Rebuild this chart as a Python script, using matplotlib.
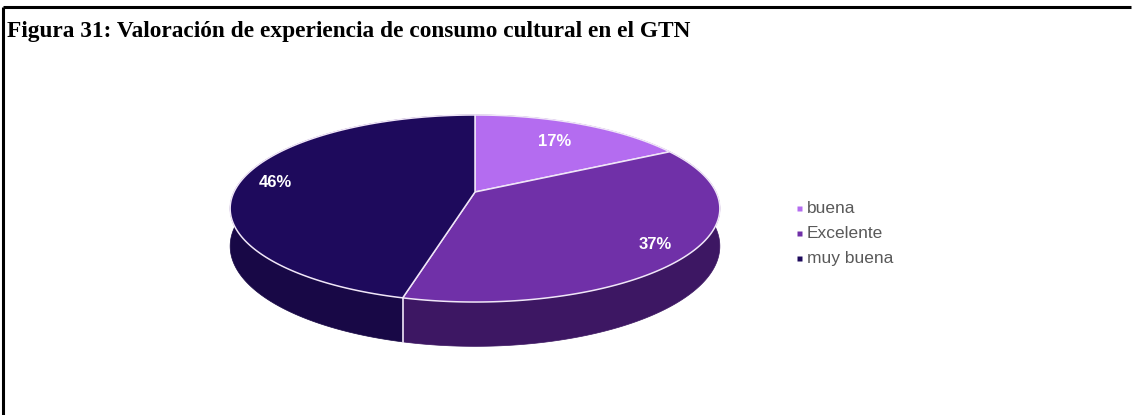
import numpy as np
import matplotlib
matplotlib.use("Agg")
import matplotlib.pyplot as plt
from matplotlib.patches import Polygon

# datos de la figura
categorias = ["buena", "Excelente", "muy buena"]
porcentajes = [17, 37, 46]
colores_sup = ["#B46CF0", "#7030A8", "#1E0A5C"]
colores_lat = ["#5A2A8A", "#3D1763", "#180846"]
titulo = "Figura 31: Valoración de experiencia de consumo cultural en el GTN"

W, H = 1132, 415
fig = plt.figure(figsize=(W / 100, H / 100), dpi=100)
ax = fig.add_axes([0, 0, 1, 1])
ax.set_xlim(0, W)
ax.set_ylim(H, 0)
ax.axis("off")

# marco (superior e izquierdo)
ax.plot([3, 1131], [7, 7], color="black", lw=2.2, solid_capstyle="butt")
ax.plot([3, 3], [7, H], color="black", lw=2.2, solid_capstyle="butt")

ax.text(7, 31, titulo, fontsize=16.8, fontweight="bold",
        family="Liberation Serif", va="center", ha="left")

# pastel 3D con perspectiva
cx, cy = 475, 192      # centro del pastel
sx, sy = 241, 90.6     # semiejes
k = 0.1765             # perspectiva
prof = 36.5            # grosor


def proyectar(theta, r=1.0, z=0.0):
    u = r * np.sin(theta)
    v = r * np.cos(theta)
    den = 1 + k * v
    return cx + sx * u / den, cy - sy * v / den + z * prof / den


fr = np.array(porcentajes) / sum(porcentajes)
lims = np.concatenate([[0], np.cumsum(fr)]) * 2 * np.pi

# paredes laterales
for i in range(len(porcentajes)):
    t = np.linspace(lims[i], lims[i + 1], 200)
    xa, ya = proyectar(t)
    xb, yb = proyectar(t[::-1], z=1)
    pts = np.column_stack([np.concatenate([xa, xb]), np.concatenate([ya, yb])])
    ax.add_patch(Polygon(pts, closed=True, facecolor=colores_lat[i],
                         edgecolor=colores_lat[i], lw=0.5))

# aristas verticales visibles en el frente
for a in lims[1:-1]:
    if np.cos(a) < 0:
        x0, y0 = proyectar(a)
        x1, y1 = proyectar(a, z=1)
        ax.plot([x0, x1], [y0, y1], color="#F0E6F8", lw=1.2)

# caras superiores
for i in range(len(porcentajes)):
    t = np.linspace(lims[i], lims[i + 1], 200)
    xa, ya = proyectar(t)
    pts = np.column_stack([np.concatenate([[cx], xa]), np.concatenate([[cy], ya])])
    ax.add_patch(Polygon(pts, closed=True, facecolor=colores_sup[i],
                         edgecolor="#F0E6F8", lw=1.1, joinstyle="round"))

# etiquetas de porcentaje
radios_etq = [0.72, 0.86, 0.85]
for i, p in enumerate(porcentajes):
    mid = (lims[i] + lims[i + 1]) / 2
    x, y = proyectar(mid, r=radios_etq[i])
    ax.text(x, y, f"{p}%", color="white", fontsize=12, fontweight="bold",
            family="Liberation Sans", ha="center", va="center")

# leyenda
for i, cat in enumerate(categorias):
    yl = 208 + i * 25
    ax.plot(799, yl, marker="s", ms=3.6, color=colores_sup[i], mec="none")
    ax.text(807, yl, cat, fontsize=12.5, color="#595959",
            family="Liberation Sans", ha="left", va="center")

fig.savefig("out.png", dpi=100)
